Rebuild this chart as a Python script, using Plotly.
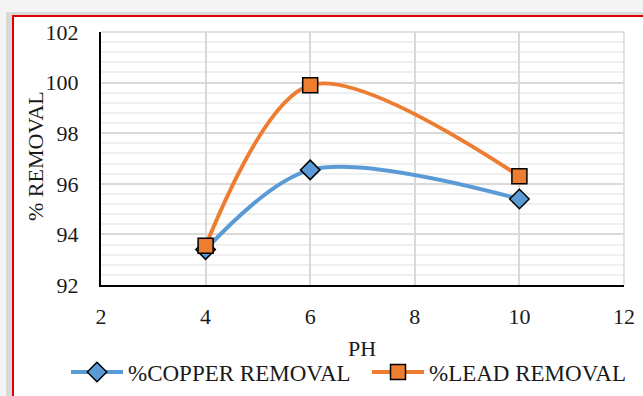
import plotly.graph_objects as go

ph = [4, 6, 10]
copper = [93.4, 96.55, 95.4]
lead = [93.55, 99.9, 96.3]

W, H = 643, 396
L, R, T, B = 101, 624, 32, 285

def px(x):
    return (x - L) / (R - L)

def py(y):
    return (B - y) / (B - T)

FONT = "Liberation Serif"
TXT = "#1a1a1a"

fig = go.Figure()
fig.add_trace(go.Scatter(
    x=ph, y=copper, name="%COPPER REMOVAL", mode="lines+markers", legend="legend",
    line=dict(color="#5B9BD5", width=4, shape="spline", smoothing=0.9),
    marker=dict(symbol="diamond", size=15, color="#5B9BD5", line=dict(color="black", width=1.5)),
))
fig.add_trace(go.Scatter(
    x=ph, y=lead, name="%LEAD REMOVAL", mode="lines+markers", legend="legend2",
    line=dict(color="#ED7D31", width=4, shape="spline", smoothing=0.9),
    marker=dict(symbol="square", size=15, color="#ED7D31", line=dict(color="black", width=1.5)),
))

shapes = [
    dict(type="rect", xref="paper", yref="paper", x0=px(6), x1=px(700), y0=py(12), y1=py(450),
         fillcolor="#d9d9d9", line=dict(width=0), layer="below"),
    dict(type="rect", xref="paper", yref="paper", x0=px(13), x1=px(700), y0=py(16), y1=py(450),
         fillcolor="white", line=dict(color="#e00000", width=2), layer="below"),
    dict(type="line", xref="paper", yref="paper", x0=1, x1=1, y0=0, y1=1,
         line=dict(color="#d9d9d9", width=1.5)),
    dict(type="line", xref="paper", yref="paper", x0=0, x1=1, y0=1, y1=1,
         line=dict(color="#d9d9d9", width=1.5)),
]

leg_common = dict(orientation="h", yanchor="middle", xanchor="left",
                  font=dict(size=23, family=FONT, color=TXT), itemwidth=52,
                  bgcolor="rgba(0,0,0,0)", borderwidth=0)

fig.update_layout(
    width=W, height=H,
    margin=dict(l=L, r=W - R, t=T, b=H - B, pad=0, autoexpand=False),
    paper_bgcolor="#f4f4f4", plot_bgcolor="white",
    font=dict(family=FONT, size=20, color=TXT),
    shapes=shapes,
    showlegend=True,
    legend=dict(x=px(66), y=py(372), **leg_common),
    legend2=dict(x=px(367), y=py(372), **leg_common),
    xaxis=dict(range=[2, 12], dtick=2, tick0=2, showgrid=True, gridcolor="#d9d9d9", gridwidth=1.5,
               showline=True, linecolor="black", linewidth=2, ticks="", zeroline=False,
               tickfont=dict(size=22, family=FONT, color=TXT), ticklabelstandoff=11),
    yaxis=dict(range=[92, 102], dtick=2, tick0=92, showgrid=True, gridcolor="#d9d9d9", gridwidth=1.5,
               showline=True, linecolor="black", linewidth=2, ticks="", zeroline=False,
               tickfont=dict(size=22, family=FONT, color=TXT), ticklabelstandoff=16,
               minor=dict(dtick=0.4, showgrid=True, gridcolor="#efefef", gridwidth=1.5)),
    annotations=[
        dict(text="PH", xref="paper", yref="paper", x=px(362), y=py(349), xanchor="center", yanchor="middle",
             showarrow=False, font=dict(size=22, family=FONT, color=TXT)),
        dict(text="% REMOVAL", xref="paper", yref="paper", x=px(35), y=py(156), xanchor="center", yanchor="middle",
             textangle=-90, showarrow=False, font=dict(size=22, family=FONT, color=TXT)),
    ],
)

fig.write_html("out.html")
